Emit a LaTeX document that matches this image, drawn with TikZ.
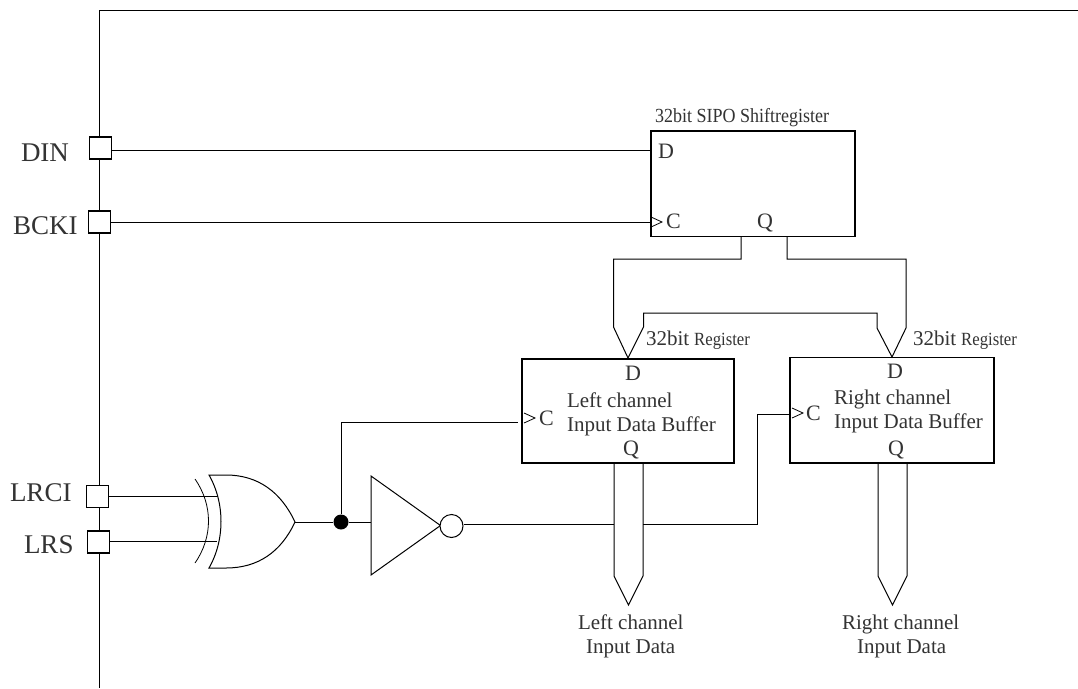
\documentclass[tikz,border=0pt]{standalone}
\usepackage{fontspec}
\setmainfont{Liberation Serif}
\newfontfamily\narrowserif[FakeStretch=0.9]{Liberation Serif}
\definecolor{ink}{gray}{0.2}
\newcommand{\regword}{{\narrowserif\fontsize{18.6}{20}\selectfont Register}}
\tikzset{
  wire/.style={draw=black,line width=1pt,line join=miter},
  tick/.style={draw=black,line width=.8pt},
  port/.style={draw=black,line width=1.5pt,fill=white,minimum width=22pt,minimum height=22pt,inner sep=0pt},
  block/.style={draw=black,line width=1.5pt,fill=white,inner sep=0pt},
  lbl/.style={text=ink,anchor=base west,inner sep=0pt,outer sep=0pt,font=\fontsize{21}{24}\selectfont,align=left},
  letter/.style={lbl,font=\fontsize{22}{24}\selectfont},
  big/.style={lbl,font=\fontsize{27}{28}\selectfont},
  small/.style={lbl,font=\narrowserif\fontsize{20}{20}\selectfont},
  dotnode/.style={circle,fill=black,draw=none,minimum size=15pt,inner sep=0pt},
  bubble/.style={circle,draw=black,line width=1pt,fill=white,minimum size=23pt,inner sep=0pt}
}
\begin{document}
\begin{tikzpicture}[x=1pt,y=-1pt]
\useasboundingbox (0,0) rectangle (1078,688);
\fill[white] (0,0) rectangle (1078,688);
% chip outline
\coordinate (chipTR) at (1078,10);
\coordinate (chipTL) at (99,10);
\coordinate (chipB) at (99,688);
\draw[wire] (chipTR) -- (chipTL) -- (chipB);
% ports
\node[port] (din) at (100.5,148) {};
\node[port] (bcki) at (99.5,222) {};
\node[port] (lrci) at (97.5,496.5) {};
\node[port] (lrs) at (98.5,542) {};
\node[big] (tdin) at (21,161) {DIN};
\node[big] (tbcki) at (13,234) {BCKI};
\node[big] (tlrci) at (10,501) {LRCI};
\node[big] (tlrs) at (24,553) {LRS};
% blocks
\node[block,minimum width=204pt,minimum height=105.5pt] (sipo) at (753,183.75) {};
\node[block,minimum width=212pt,minimum height=104pt] (lbuf) at (628,411) {};
\node[block,minimum width=204pt,minimum height=105.5pt] (rbuf) at (892,410.25) {};
% wires to SIPO
\coordinate (sipoD) at (651,150);
\coordinate (sipoC) at (651,222);
\draw[wire] (din.east |- sipoD) -- (sipoD);
\draw[wire] (bcki.east |- sipoC) -- (sipoC);
\coordinate (ck1a) at (651,217);\coordinate (ck1b) at (662,222);\coordinate (ck1c) at (651,227);
\draw[tick] (ck1a) -- (ck1b) -- (ck1c);
% bus SIPO to left and right registers
\coordinate (a1) at (741,236.5);\coordinate (a2) at (741,259);\coordinate (a3) at (613.5,259);\coordinate (a4) at (613.5,327);
\coordinate (lt) at (628,358);\coordinate (a5) at (643.5,327);\coordinate (a6) at (643.5,313);
\coordinate (b1) at (787,236.5);\coordinate (b2) at (787,259);\coordinate (b3) at (906,259);\coordinate (b4) at (906,328);
\coordinate (rt) at (892,357);\coordinate (b5) at (877,328);\coordinate (b6) at (877,313);
\draw[wire] (a1) -- (a2) -- (a3) -- (a4) -- (lt) -- (a5) -- (a6) -- (b6) -- (b5) -- (rt) -- (b4) -- (b3) -- (b2) -- (b1);
% gate
\coordinate (gTL) at (209,475);\coordinate (gBL) at (209,568);\coordinate (gO) at (295,522);
\coordinate (i1) at (218,496);\coordinate (i2) at (217,541);
\draw[wire] (lrci.east |- i1) -- (i1);
\draw[wire] (lrs.east |- i2) -- (i2);
\draw[wire] (gTL) -- (226,475) .. controls (258,475) and (281,492) .. (gO)
  .. controls (281,552) and (258,568) .. (226,568) -- (gBL)
  .. controls (225,540) and (225,503) .. (gTL) -- cycle;
\coordinate (arcT) at (195,479);\coordinate (arcB) at (195,563);
\draw[tick] (arcT) .. controls (213,505) and (213,537) .. (arcB);
% inverter
\coordinate (invT) at (371,476);\coordinate (invB) at (371,575);\coordinate (invO) at (440.5,525.5);
\draw[wire] (invT) -- (invO) -- (invB) -- cycle;
\node[bubble] (bub) at (451.5,526) {};
\node[dotnode] (dot) at (341,522) {};
\draw[wire] (gO) -- (dot);
\draw[wire] (dot) -- (invT |- dot);
% clock left
\coordinate (lc1) at (518,422);
\draw[wire] (dot) -- (dot |- lc1) -- (lc1);
\coordinate (ck2a) at (524,413);\coordinate (ck2b) at (535,418);\coordinate (ck2c) at (524,423);
\draw[tick] (ck2a) -- (ck2b) -- (ck2c);
% clock right
\coordinate (j1) at (614,524);\coordinate (j2) at (643,524);\coordinate (j3) at (757,524);\coordinate (j4) at (757,414);\coordinate (j5) at (791,414);
\draw[wire] (bub.east |- j1) -- (j1);
\draw[wire] (j2) -- (j3) -- (j4) -- (j5);
\coordinate (ck3a) at (792,408);\coordinate (ck3b) at (803,413);\coordinate (ck3c) at (792,418);
\draw[tick] (ck3a) -- (ck3b) -- (ck3c);
% output buses
\coordinate (l1) at (614,463);\coordinate (l2) at (614,576);\coordinate (lo) at (628.5,605);\coordinate (l3) at (643,576);\coordinate (l4) at (643,463);
\draw[wire] (l1) -- (l2) -- (lo) -- (l3) -- (l4);
\coordinate (r1) at (878,463);\coordinate (r2) at (878,576);\coordinate (ro) at (892.5,605);\coordinate (r3) at (907,576);\coordinate (r4) at (907,463);
\draw[wire] (r1) -- (r2) -- (ro) -- (r3) -- (r4);
% texts
\node[small] (t0) at (655,122) {32bit SIPO Shiftregister};
\node[letter] (sd) at (658,158) {D};
\node[letter] (sc) at (666,228) {C};
\node[letter] (sq) at (757,228) {Q};
\node[lbl] (r1t) at (646,345) {32bit\hspace{5pt}\regword};
\node[lbl] (r2t) at (913,345) {32bit\hspace{5pt}\regword};
\node[letter] (ld) at (625,380) {D};
\node[letter] (rd) at (887,378) {D};
\node[letter] (lc) at (539,425) {C};
\node[letter] (rc) at (806,420) {C};
\node[letter] (lq) at (623,455) {Q};
\node[letter] (rq) at (888,455) {Q};
\node[lbl] (lb) at (567,431) {Left channel\\Input Data Buffer};
\node[lbl] (rb) at (834,428) {Right channel\\Input Data Buffer};
\node[lbl] (lo1) at (578,653) {Left channel\\\hspace{8pt}Input Data};
\node[lbl] (ro1) at (842,653) {Right channel\\\hspace{15pt}Input Data};
\end{tikzpicture}
\end{document}
